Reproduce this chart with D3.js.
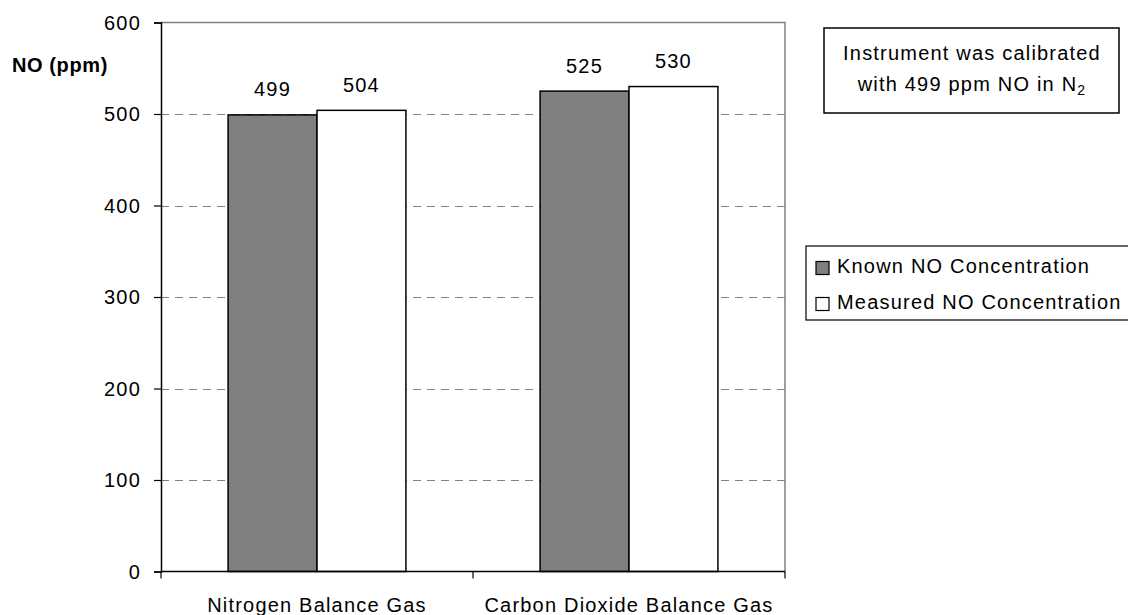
<!DOCTYPE html>
<html>
<head>
<meta charset="utf-8">
<script src="https://cdn.jsdelivr.net/npm/d3@7"></script>
<style>
  html, body { margin: 0; padding: 0; background: #fff; }
  svg { display: block; }
  text { font-family: "Liberation Sans", Arial, sans-serif; fill: #000; }
</style>
</head>
<body>
<svg id="chart" width="1128" height="615"></svg>
<script>
const categories = ["Nitrogen Balance Gas", "Carbon Dioxide Balance Gas"];
const seriesNames = ["Known NO Concentration", "Measured NO Concentration"];
const knownValues = [499, 525];
const measuredValues = [504, 530];
const yTicks = [0, 100, 200, 300, 400, 500, 600];
const yTitle = "NO (ppm)";
const noteLine1 = "Instrument was calibrated";
const noteLine2 = "with 499 ppm NO in N";
const noteSub = "2";
const seriesColors = ["#808080", "#ffffff"];

const svg = d3.select("#chart");
const W = 1128, H = 615;
const plot = { left: 161, right: 785, top: 22.5, bottom: 571.5 };
const FS = 20, LS = "1.2px";

const x0 = d3.scaleBand().domain(categories)
  .range([plot.left, plot.right]).paddingInner(0.43).paddingOuter(0.215);
const x1 = d3.scaleBand().domain(seriesNames).range([0, x0.bandwidth()]).padding(0);
const y = d3.scaleLinear().domain([0, 600]).range([plot.bottom, plot.top]);

svg.append("rect").attr("width", W).attr("height", H).attr("fill", "#fff");

// gridlines
svg.append("g").selectAll("line").data(yTicks.filter(d => d > 0 && d < 600)).join("line")
  .attr("x1", plot.left).attr("x2", plot.right)
  .attr("y1", d => y(d) + 0.5).attr("y2", d => y(d) + 0.5)
  .attr("stroke", "#808080").attr("stroke-width", 1)
  .attr("shape-rendering", "crispEdges")
  .attr("stroke-dasharray", "8,6");

// plot border top/right
svg.append("path")
  .attr("d", `M${plot.left},${plot.top}H${plot.right}V${plot.bottom}`)
  .attr("fill", "none").attr("stroke", "#808080").attr("stroke-width", 1.5);

const data = categories.map((c, i) => ({
  cat: c,
  vals: [ { s: seriesNames[0], v: knownValues[i], c: seriesColors[0] },
          { s: seriesNames[1], v: measuredValues[i], c: seriesColors[1] } ]
}));

const groups = svg.append("g").selectAll("g").data(data).join("g")
  .attr("transform", d => `translate(${x0(d.cat)},0)`);

groups.selectAll("rect").data(d => d.vals).join("rect")
  .attr("x", d => x1(d.s))
  .attr("width", x1.bandwidth())
  .attr("y", d => y(d.v))
  .attr("height", d => y(0) - y(d.v))
  .attr("fill", d => d.c)
  .attr("stroke", "#000").attr("stroke-width", 1.5);

groups.selectAll("text").data(d => d.vals).join("text")
  .attr("x", d => x1(d.s) + x1.bandwidth() / 2)
  .attr("y", d => y(d.v) - 18.5)
  .attr("text-anchor", "middle")
  .style("font-size", FS + "px").style("letter-spacing", LS)
  .text(d => d.v);

// y axis
const yAxis = d3.axisLeft(y).tickValues(yTicks).tickSize(7).tickPadding(13);
const gy = svg.append("g").attr("transform", `translate(${plot.left},0)`).call(yAxis);
gy.select(".domain").attr("stroke", "#000").attr("stroke-width", 1.5);
gy.selectAll(".tick line").attr("stroke", "#000").attr("stroke-width", 1.2);
gy.selectAll(".tick text").style("font-size", FS + "px").style("letter-spacing", LS)
  .style("font-family", '"Liberation Sans", Arial, sans-serif').attr("fill", "#000")
  .attr("dy", "0.33em");

// x axis
const xEdge = d3.scaleLinear().domain([0, categories.length]).range([plot.left, plot.right]);
const gx = svg.append("g").attr("transform", `translate(0,${plot.bottom})`);
gx.append("line").attr("x1", plot.left).attr("x2", plot.right)
  .attr("stroke", "#000").attr("stroke-width", 1.5);
gx.selectAll("line.tk").data(d3.range(categories.length + 1)).join("line")
  .attr("class", "tk")
  .attr("x1", d => xEdge(d)).attr("x2", d => xEdge(d))
  .attr("y1", 0).attr("y2", 7).attr("stroke", "#000").attr("stroke-width", 1.2);
gx.selectAll("text").data(categories).join("text")
  .attr("x", d => x0(d) + x0.bandwidth() / 2)
  .attr("y", 40.5)
  .attr("text-anchor", "middle")
  .style("font-size", FS + "px").style("letter-spacing", LS)
  .text(d => d);

// y title
svg.append("text").attr("x", 12).attr("y", 72)
  .style("font-size", "20px").style("font-weight", "bold").style("letter-spacing", "0.6px")
  .text(yTitle);

// note box
svg.append("rect").attr("x", 824).attr("y", 28).attr("width", 295).attr("height", 85)
  .attr("fill", "#fff").attr("stroke", "#000").attr("stroke-width", 1.5);
svg.append("text").attr("x", 972).attr("y", 60).attr("text-anchor", "middle")
  .style("font-size", FS + "px").style("letter-spacing", LS).text(noteLine1);
const t2 = svg.append("text").attr("x", 972).attr("y", 91).attr("text-anchor", "middle")
  .style("font-size", FS + "px").style("letter-spacing", LS);
t2.append("tspan").text(noteLine2);
t2.append("tspan").attr("dy", 4).style("font-size", "14px").text(noteSub);

// legend
const lg = svg.append("g");
lg.append("rect").attr("x", 806).attr("y", 246).attr("width", 340).attr("height", 74)
  .attr("fill", "#fff").attr("stroke", "#000").attr("stroke-width", 1.2);
const legItems = lg.selectAll("g").data(seriesNames).join("g")
  .attr("transform", (d, i) => `translate(0,${i * 36})`);
legItems.append("rect").attr("x", 816).attr("y", 261.5).attr("width", 13).attr("height", 13)
  .attr("fill", (d, i) => seriesColors[i]).attr("stroke", "#000").attr("stroke-width", 1.2);
legItems.append("text").attr("x", 837).attr("y", 273)
  .style("font-size", FS + "px").style("letter-spacing", LS).text(d => d);
</script>
</body>
</html>
